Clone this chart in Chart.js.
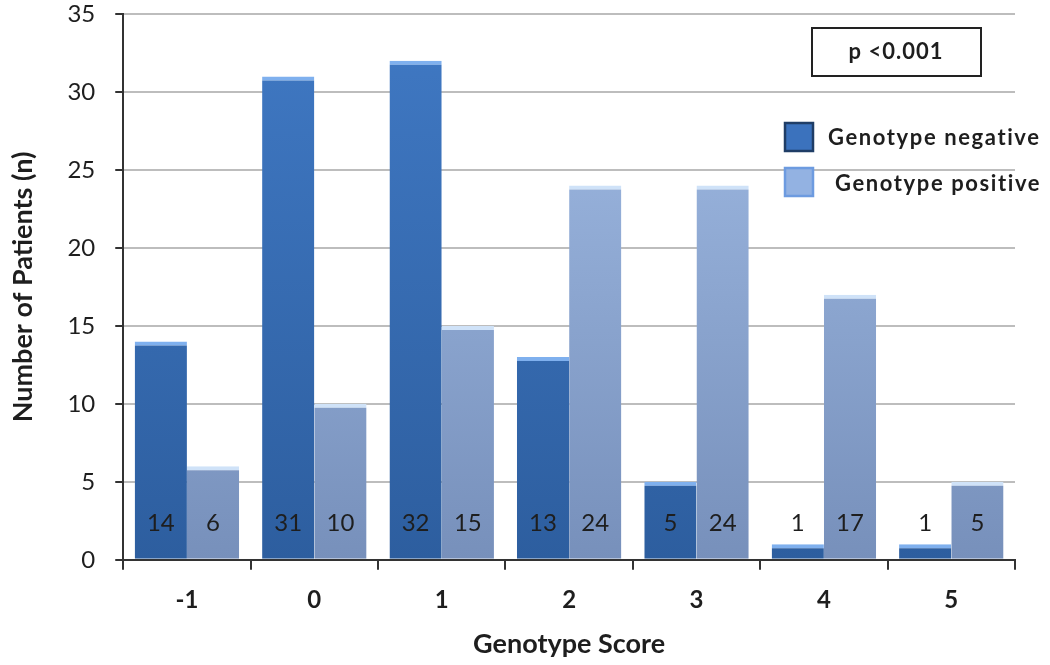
<!DOCTYPE html>
<html>
<head>
<meta charset="utf-8">
<script src="https://cdn.jsdelivr.net/npm/chart.js@4.4.1/dist/chart.umd.min.js"></script>
<style>
  html, body { margin: 0; padding: 0; background: #fff; }
  canvas { display: block; }
</style>
</head>
<body>
<canvas id="chart" width="1050" height="665"></canvas>
<script>
// Genotype score distribution
const scores = ['-1', '0', '1', '2', '3', '4', '5'];
const genotypeNegative = [14, 31, 32, 13, 5, 1, 1];
const genotypePositive = [6, 10, 15, 24, 24, 17, 5];
const yTicks = [0, 5, 10, 15, 20, 25, 30, 35];
const pText = 'p <0.001';

const FONT = 'Lato, "Open Sans", sans-serif';

// vertical gradient fill for bars
function barGradient(stops) {
    return function(context) {
        const chart = context.chart;
        const area = chart.chartArea;
        if (!area) return stops[0];
        const g = chart.ctx.createLinearGradient(0, area.top, 0, area.bottom);
        g.addColorStop(0, stops[0]);
        g.addColorStop(1, stops[1]);
        return g;
    };
}

// numbers written near the bottom of each bar
const valueLabels = {
    id: 'valueLabels',
    afterDatasetsDraw(chart) {
        const ctx = chart.ctx;
        const y = chart.scales.y.getPixelForValue(0) - 37;
        ctx.save();
        ctx.font = '24px ' + FONT;
        ctx.fillStyle = '#1e1e1e';
        ctx.textAlign = 'center';
        ctx.textBaseline = 'middle';
        chart.data.datasets.forEach((ds, i) => {
            chart.getDatasetMeta(i).data.forEach((bar, j) => {
                ctx.fillText(String(ds.data[j]), bar.x, y);
            });
        });
        ctx.restore();
    }
};

// legend and p-value box inside the plot
const annotations = {
    id: 'annotations',
    afterDraw(chart) {
        const ctx = chart.ctx;
        ctx.save();
        // p value box
        ctx.fillStyle = '#fff';
        ctx.fillRect(812, 28, 169, 48);
        ctx.strokeStyle = '#222';
        ctx.lineWidth = 2;
        ctx.strokeRect(812, 28, 169, 48);
        ctx.fillStyle = '#1e1e1e';
        ctx.font = 'bold 22px ' + FONT;
        ctx.letterSpacing = '1px';
        ctx.textAlign = 'center';
        ctx.textBaseline = 'middle';
        ctx.fillText(pText, 896, 52);

        // legend
        const items = [
            { ds: chart.data.datasets[0], x: 785, y: 123, tx: 828, ty: 138, edge: '#1f3d66', fill: '#3b72bd' },
            { ds: chart.data.datasets[1], x: 785, y: 168, tx: 835, ty: 184, edge: '#6d9be0', fill: '#93b2e2' }
        ];
        ctx.textAlign = 'left';
        ctx.font = 'bold 22px ' + FONT;
        ctx.letterSpacing = '1.6px';
        items.forEach(it => {
            ctx.fillStyle = it.fill;
            ctx.fillRect(it.x, it.y, 28, 28);
            ctx.strokeStyle = it.edge;
            ctx.lineWidth = 2.5;
            ctx.strokeRect(it.x, it.y, 28, 28);
            ctx.fillStyle = '#1e1e1e';
            ctx.fillText(it.ds.label, it.tx, it.ty);
        });
        ctx.restore();
    }
};

const ctx = document.getElementById('chart').getContext('2d');
new Chart(ctx, {
    type: 'bar',
    data: {
        labels: scores,
        datasets: [
            {
                label: 'Genotype negative',
                data: genotypeNegative,
                backgroundColor: barGradient(['#4079c4', '#2d5e9f']),
                borderColor: '#7fb0ee',
                borderWidth: { top: 4, left: 0, right: 0, bottom: 0 },
                borderSkipped: 'bottom'
            },
            {
                label: 'Genotype positive',
                data: genotypePositive,
                backgroundColor: barGradient(['#a2bde6', '#7790bb']),
                borderColor: '#cfe2f8',
                borderWidth: { top: 4, left: 0, right: 0, bottom: 0 },
                borderSkipped: 'bottom'
            }
        ]
    },
    options: {
        responsive: false,
        animation: false,
        categoryPercentage: 0.82,
        barPercentage: 1.0,
        layout: { padding: { top: 14, right: 35, left: 7, bottom: 5 } },
        plugins: {
            legend: { display: false },
            tooltip: { enabled: false }
        },
        scales: {
            x: {
                grid: {
                    display: true,
                    drawOnChartArea: false,
                    offset: true,
                    tickLength: 10,
                    color: '#333',
                    lineWidth: 2
                },
                border: { color: '#333', width: 2 },
                ticks: {
                    color: '#1e1e1e',
                    font: { family: FONT, size: 24, weight: 'bold' },
                    padding: 16
                },
                title: {
                    display: true,
                    text: 'Genotype Score',
                    color: '#1e1e1e',
                    font: { family: FONT, size: 27, weight: 'bold' },
                    padding: { top: -3, bottom: 0 }
                }
            },
            y: {
                min: 0,
                max: 35,
                afterBuildTicks(axis) {
                    axis.ticks = yTicks.map(v => ({ value: v }));
                },
                afterFit(axis) {
                    // label padding should not push the plot top down
                    axis.paddingTop = 0;
                    axis.paddingBottom = 0;
                },
                grid: {
                    color: '#bdbdbd',
                    lineWidth: 2,
                    tickLength: 8,
                    tickColor: '#333'
                },
                border: { color: '#333', width: 2 },
                ticks: {
                    color: '#1e1e1e',
                    font: { family: FONT, size: 24 },
                    padding: 20
                },
                title: {
                    display: true,
                    text: 'Number of Patients (n)',
                    color: '#1e1e1e',
                    font: { family: FONT, size: 27, weight: 'bold' },
                    padding: { top: 0, bottom: 8 }
                }
            }
        }
    },
    plugins: [valueLabels, annotations]
});
</script>
</body>
</html>
